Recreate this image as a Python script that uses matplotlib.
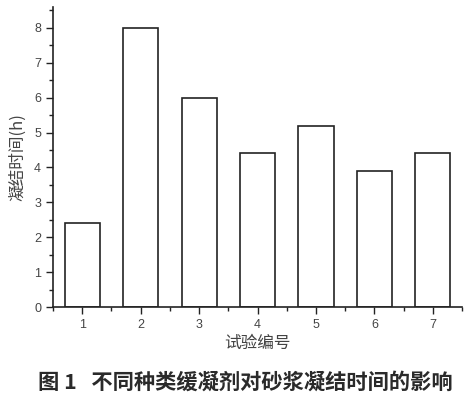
import matplotlib.pyplot as plt
from matplotlib.ticker import MultipleLocator

plt.rcParams['font.family'] = ['Noto Sans CJK SC', 'DejaVu Sans']

# data
trials = [1, 2, 3, 4, 5, 6, 7]
set_time = [2.4, 8.0, 6.0, 4.4, 5.2, 3.9, 4.4]

fig = plt.figure(figsize=(4.73, 4.01), dpi=100)
ax = fig.add_axes([0.112, 0.234, 0.865, 0.749])

ax.bar(trials, set_time, width=0.6, facecolor='white', edgecolor='#222222', linewidth=1.2)

ax.set_xlim(0.5, 7.5)
ax.set_ylim(0, 8.6)
ax.xaxis.set_major_locator(MultipleLocator(1))
ax.xaxis.set_minor_locator(MultipleLocator(0.5))
ax.yaxis.set_major_locator(MultipleLocator(1))
ax.yaxis.set_minor_locator(MultipleLocator(0.5))

for s in ['top', 'right']:
    ax.spines[s].set_visible(False)
for s in ['left', 'bottom']:
    ax.spines[s].set_linewidth(1.2)
    ax.spines[s].set_color('#222222')

ax.tick_params(which='major', length=5, width=1, labelsize=9, colors='#222222', labelcolor='#444444')
ax.tick_params(which='minor', length=3, width=1, colors='#222222')
for lab in ax.get_xticklabels() + ax.get_yticklabels():
    lab.set_family('Liberation Sans')

ax.set_xlabel('试验编号', fontsize=12, color='#444444', labelpad=3)
ax.set_ylabel('凝结时间(h)', fontsize=12, color='#444444', labelpad=6)

fig.text(0.08, 0.048, '图 1   不同种类缓凝剂对砂浆凝结时间的影响', fontsize=15.3,
         fontweight='bold', color='#2a2a2a', va='center', ha='left')

fig.savefig('out.png', dpi=100)
